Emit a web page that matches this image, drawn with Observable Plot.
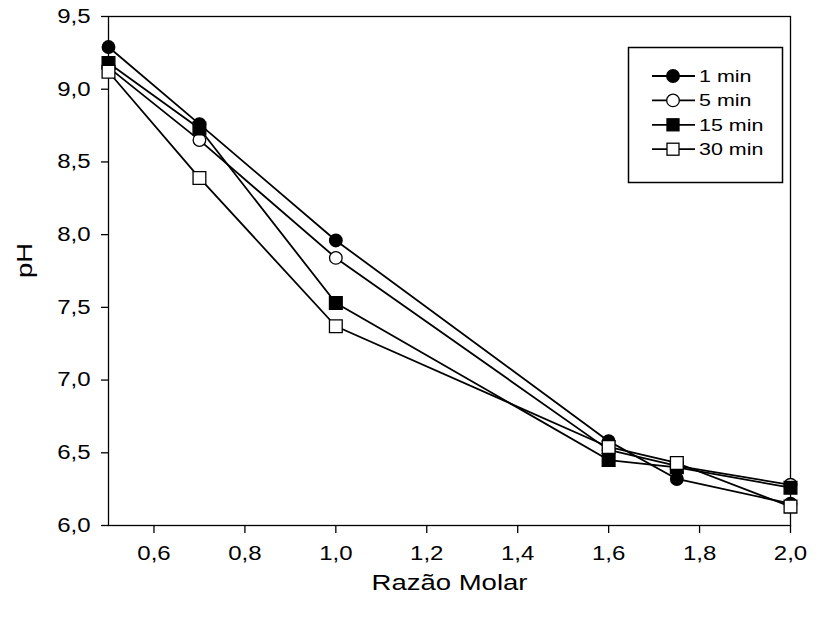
<!DOCTYPE html>
<html>
<head>
<meta charset="utf-8">
<script src="https://cdn.jsdelivr.net/npm/d3@7"></script>
<script src="https://cdn.jsdelivr.net/npm/@observablehq/plot@0.6"></script>
<style>
  body { margin: 0; background: #fff; }
  #wrap { position: relative; width: 838px; height: 625px; font-family: "Liberation Sans", Arial, sans-serif; }
  #legend { position: absolute; left: 0; top: 0; }
</style>
</head>
<body>
<div id="wrap"></div>
<script>
const ratios = [0.5, 0.7, 1.0, 1.6, 1.75, 2.0];
const seriesNames = ["1 min", "5 min", "15 min", "30 min"];
const ph1 = [9.29, 8.76, 7.96, 6.58, 6.32, 6.15];
const ph5 = [9.15, 8.65, 7.84, 6.52, 6.41, 6.28];
const ph15 = [9.18, 8.73, 7.53, 6.45, 6.40, 6.26];
const ph30 = [9.12, 8.39, 7.37, 6.54, 6.43, 6.13];
const symbols = ["circle", "circle", "square", "square"];
const fills = ["black", "white", "black", "white"];
const xTicks = [0.6, 0.8, 1.0, 1.2, 1.4, 1.6, 1.8, 2.0];
const yTicks = [6.0, 6.5, 7.0, 7.5, 8.0, 8.5, 9.0, 9.5];

const allPh = [ph1, ph5, ph15, ph30];
const data = [];
seriesNames.forEach((s, i) => ratios.forEach((r, j) => data.push({series: s, idx: i, x: r, y: allPh[i][j]})));

const fmt = d => d.toFixed(1).replace(".", ",");
const FONT = "Liberation Sans, Arial, sans-serif";

const chart = Plot.plot({
  width: 838,
  height: 625,
  marginLeft: 108,
  marginRight: 48,
  marginTop: 16,
  marginBottom: 100,
  style: { fontFamily: FONT, fontSize: "20px", background: "white", color: "black" },
  x: { domain: [0.5, 2.0] },
  y: { domain: [6.0, 9.5] },
  marks: [
    Plot.frame({ stroke: "black", strokeWidth: 1.3 }),
    Plot.axisX({ ticks: xTicks, tickFormat: () => "", tickSize: 8, label: null, stroke: "black", strokeWidth: 1.3 }),
    Plot.axisY({ ticks: yTicks, tickFormat: () => "", tickSize: 7, label: null, stroke: "black", strokeWidth: 1.3 }),
    Plot.text(xTicks, { x: d => d, frameAnchor: "bottom", dy: 34, text: fmt, fontSize: 20, fill: "black", textAnchor: "middle", className: "ticklab" }),
    Plot.text(yTicks, { y: d => d, frameAnchor: "left", dx: -18, text: fmt, fontSize: 20, fill: "black", textAnchor: "end", className: "ticklab" }),
    Plot.text(["Razão Molar"], { frameAnchor: "bottom", dy: 64, fontSize: 22, fill: "black", text: d => d, className: "title" }),
    Plot.text(["pH"], { frameAnchor: "left", dx: -84, dy: 7, rotate: -90, fontSize: 22, fill: "black", text: d => d, className: "title" }),
    ...seriesNames.map((s, i) => Plot.line(data.filter(d => d.idx === i), { x: "x", y: "y", stroke: "black", strokeWidth: 1.8 })),
    ...seriesNames.map((s, i) => Plot.dot(data.filter(d => d.idx === i), {
      x: "x", y: "y", symbol: () => symbols[i], fill: fills[i], stroke: "black", strokeWidth: 1.3,
      r: symbols[i] === "circle" ? 6.3 : 7.2
    }))
  ]
});

const wrap = document.getElementById("wrap");
wrap.appendChild(chart);

// Legend (own SVG, overlaid at top-right of plot area)
const lg = d3.create("svg").attr("id", "legend").attr("width", 838).attr("height", 625)
  .style("pointer-events", "none");
lg.append("rect").attr("x", 628.5).attr("y", 47.5).attr("width", 154).attr("height", 135)
  .attr("fill", "white").attr("stroke", "black").attr("stroke-width", 1.5);
seriesNames.forEach((s, i) => {
  const cy = 76 + i * 24.4;
  lg.append("line").attr("x1", 652).attr("x2", 695).attr("y1", cy).attr("y2", cy).attr("stroke", "black").attr("stroke-width", 1.8);
  if (symbols[i] === "circle") {
    lg.append("circle").attr("cx", 673).attr("cy", cy).attr("r", 6.3).attr("fill", fills[i]).attr("stroke", "black").attr("stroke-width", 1.3);
  } else {
    lg.append("rect").attr("x", 667).attr("y", cy - 6).attr("width", 12).attr("height", 12).attr("fill", fills[i]).attr("stroke", "black").attr("stroke-width", 1.3);
  }
  lg.append("text").attr("x", 699).attr("y", cy).attr("dy", "0.35em").attr("font-family", FONT).attr("font-size", 16.5)
    .attr("fill", "black").attr("class", "lgtext").text(s);
});
wrap.appendChild(lg.node());

// The reference's lettering is horizontally wider than plain Arial: widen glyphs
function widen(el, k) {
  const len = el.getComputedTextLength();
  if (len > 0) {
    el.setAttribute("textLength", (len * k).toFixed(2));
    el.setAttribute("lengthAdjust", "spacingAndGlyphs");
  }
}
chart.querySelectorAll(".ticklab text").forEach(el => widen(el, 1.2));
chart.querySelectorAll(".title text").forEach(el => widen(el, 1.25));
lg.node().querySelectorAll("text.lgtext").forEach(el => widen(el, 1.3));
</script>
</body>
</html>
